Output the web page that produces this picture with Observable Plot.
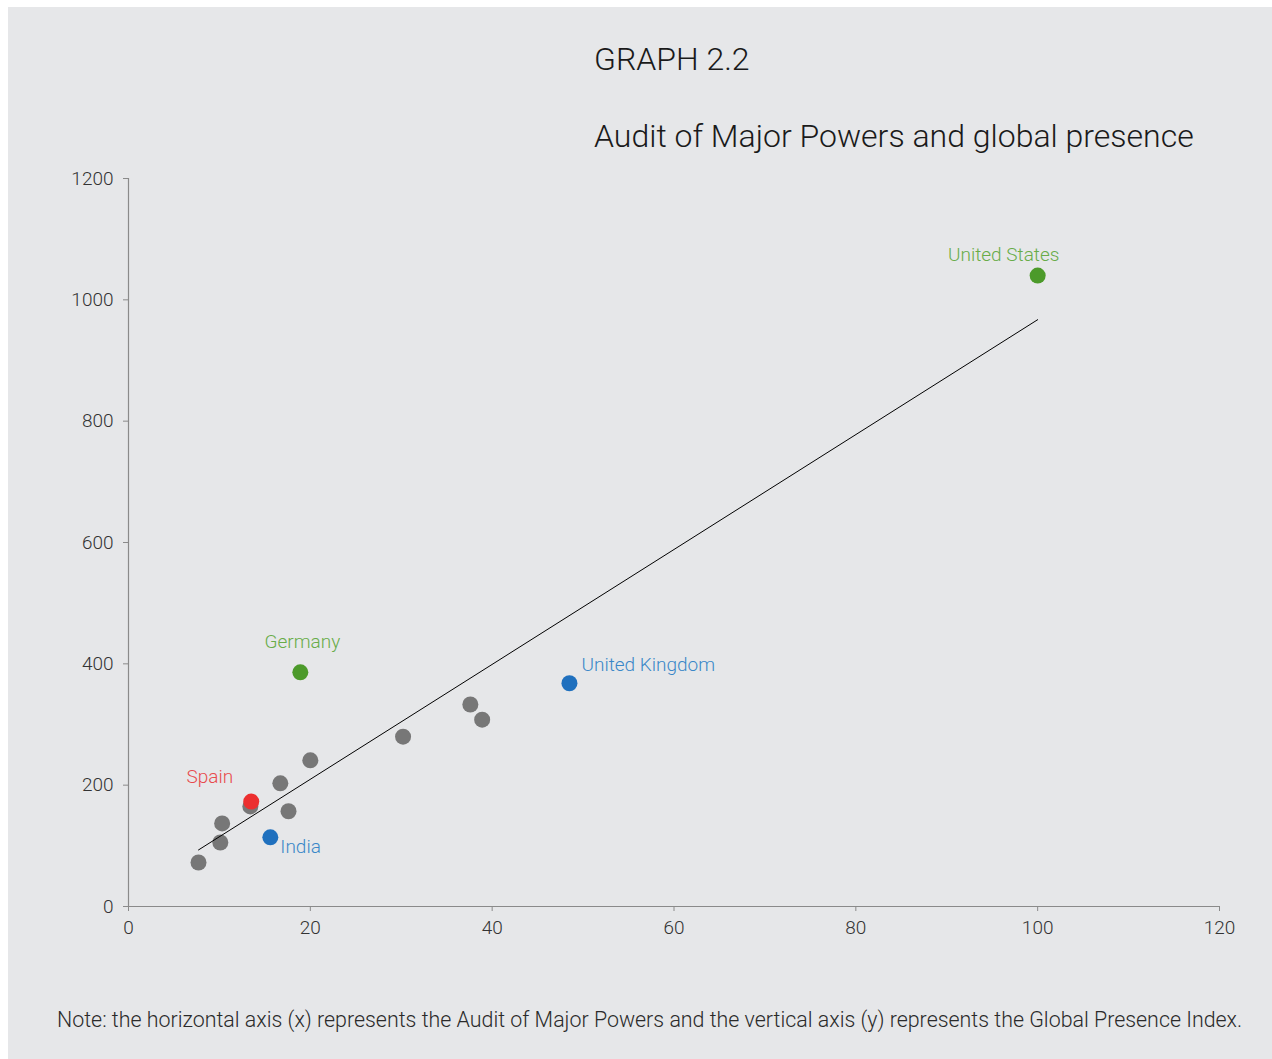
<!DOCTYPE html>
<html>
<head>
<meta charset="utf-8">
<script src="https://cdn.jsdelivr.net/npm/d3@7"></script>
<script src="https://cdn.jsdelivr.net/npm/@observablehq/plot@0.6"></script>
<style>
  html, body { margin: 0; padding: 0; background: #ffffff; }
  body { width: 1272px; height: 1059px; position: relative; overflow: hidden; font-family: Roboto, "Noto Sans", sans-serif; font-weight: 300; }
  #panel { position: absolute; left: 8px; top: 7px; width: 1264px; height: 1052px; background: #e6e7e9; }
  .title { position: absolute; left: 594px; color: #1a1a1a; font-size: 32px; font-weight: 300; white-space: nowrap; line-height: 1; }
  #t1 { top: 43px; }
  #t2 { top: 120px; }
  #chart { position: absolute; left: 0; top: 150px; }
  #note { position: absolute; left: 57px; top: 1009px; font-size: 21.4px; color: #2a2a2a; white-space: nowrap; line-height: 1; font-weight: 300; }
</style>
</head>
<body>
<div id="panel"></div>
<div class="title" id="t1">GRAPH 2.2</div>
<div class="title" id="t2">Audit of Major Powers and global presence</div>
<div id="chart"></div>
<div id="note">Note: the horizontal axis (x) represents the Audit of Major Powers and the vertical axis (y) represents the Global Presence Index.</div>
<script>
// ---- Data ----
const highlightNames = ["United States", "Germany", "United Kingdom", "India", "Spain"];
const highlightX = [100, 18.9, 48.5, 15.6, 13.5];
const highlightY = [1040, 386, 368, 114, 173];
const highlightGroup = ["Green", "Green", "Blue", "Blue", "Red"];

const otherX = [7.7, 10.1, 10.3, 13.4, 16.7, 17.6, 20.0, 30.2, 37.6, 38.9];
const otherY = [72.5, 105.5, 137, 165, 203, 157, 241, 280, 333, 308];

const xTicks = [0, 20, 40, 60, 80, 100, 120];
const yTicks = [0, 200, 400, 600, 800, 1000, 1200];

// ---- Tables built from the arrays ----
const highlighted = highlightNames.map((name, i) => ({name, x: highlightX[i], y: highlightY[i], group: highlightGroup[i]}));
const others = otherX.map((x, i) => ({x, y: otherY[i]}));
const all = [...others, ...highlighted.map(d => ({x: d.x, y: d.y}))];

// ---- Styling ----
const groupDomain = ["Green", "Blue", "Red"];
const dotColors = ["#4c9a2a", "#1f70be", "#ec2f2f"];
const labelColors = ["#68ac48", "#3a87c8", "#e84a4d"];
const labelLayout = {
  "United States": {dx: -34, dy: -21, anchor: "middle"},
  "Germany": {dx: 2, dy: -30, anchor: "middle"},
  "United Kingdom": {dx: 12, dy: -18, anchor: "start"},
  "India": {dx: 10, dy: 10, anchor: "start"},
  "Spain": {dx: -18, dy: -25, anchor: "end"}
};

const labelMarks = highlighted.map(d => {
  const L = labelLayout[d.name];
  return Plot.text([d], {
    x: "x", y: "y", text: "name",
    dx: L.dx, dy: L.dy, textAnchor: L.anchor, lineAnchor: "middle",
    fill: labelColors[groupDomain.indexOf(d.group)],
    fontSize: 19, fontWeight: 300
  });
});

const chart = Plot.plot({
  width: 1272,
  height: 800,
  marginLeft: 128,
  marginRight: 53,
  marginTop: 28,
  marginBottom: 44,
  style: {background: "transparent", fontFamily: "Roboto, 'Noto Sans', sans-serif", fontSize: "19px", fontWeight: 300, color: "#333"},
  x: {domain: [0, 120]},
  y: {domain: [0, 1200]},
  marks: [
    Plot.ruleX([0], {stroke: "#8a8a8a", strokeWidth: 1.2}),
    Plot.ruleY([0], {stroke: "#8a8a8a", strokeWidth: 1.2}),
    Plot.axisX({ticks: xTicks, tickFormat: d3.format("d"), tickSize: 5, tickPadding: 9, stroke: "#8a8a8a", fill: "#333", label: null, fontSize: 19}),
    Plot.axisY({ticks: yTicks, tickFormat: d3.format("d"), tickSize: 5, tickPadding: 10, stroke: "#8a8a8a", fill: "#333", label: null, fontSize: 19}),
    Plot.dot(others, {x: "x", y: "y", r: 8, fill: "#777777", stroke: "none"}),
    Plot.linearRegressionY(all, {x: "x", y: "y", stroke: "#000", strokeWidth: 1, ci: 0}),
    Plot.dot(highlighted, {x: "x", y: "y", r: 8, fill: d => dotColors[groupDomain.indexOf(d.group)], stroke: "none"}),
    ...labelMarks
  ]
});
document.getElementById("chart").appendChild(chart);
</script>
</body>
</html>
